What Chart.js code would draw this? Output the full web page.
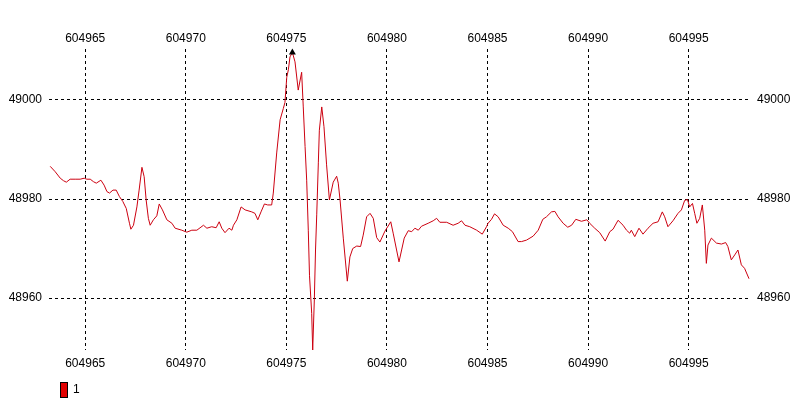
<!DOCTYPE html>
<html>
<head>
<meta charset="utf-8">
<title>Series 1</title>
<script src="https://cdn.jsdelivr.net/npm/chart.js@4.4.0/dist/chart.umd.min.js"></script>
<style>
  body { margin: 0; background: #fff; }
  #wrap { width: 800px; height: 400px; }
</style>
</head>
<body>
<div id="wrap"><canvas id="chart" width="800" height="400"></canvas></div>
<script>
// series "1"
const seriesName = '1';
const xValues = [
  604963.26, 604963.51, 604963.76, 604963.92, 604964.06, 604964.25, 604964.50, 604964.75, 604964.95, 604965.08,
  604965.25, 604965.41, 604965.55, 604965.78, 604965.94, 604966.08, 604966.21, 604966.38, 604966.54, 604966.70,
  604966.87, 604967.04, 604967.20, 604967.27, 604967.40, 604967.57, 604967.68, 604967.82, 604967.93, 604968.03,
  604968.14, 604968.23, 604968.39, 604968.56, 604968.68, 604968.84, 604969.06, 604969.31, 604969.47, 604969.80,
  604970.05, 604970.30, 604970.55, 604970.88, 604971.05, 604971.29, 604971.51, 604971.66, 604971.79, 604971.95,
  604972.15, 604972.29, 604972.37, 604972.54, 604972.75, 604972.95, 604973.28, 604973.44, 604973.58, 604973.74,
  604973.91, 604974.07, 604974.27, 604974.35, 604974.52, 604974.69, 604974.85, 604974.93, 604975.02, 604975.10,
  604975.18, 604975.30, 604975.43, 604975.59, 604975.76, 604975.84, 604975.93, 604976.01, 604976.09, 604976.15,
  604976.26, 604976.31, 604976.39, 604976.45, 604976.51, 604976.59, 604976.64, 604976.76, 604976.87, 604977.00,
  604977.14, 604977.33, 604977.50, 604977.58, 604977.67, 604977.83, 604978.03, 604978.16, 604978.30, 604978.50,
  604978.69, 604978.82, 604978.99, 604979.16, 604979.32, 604979.49, 604979.65, 604979.90, 604980.19, 604980.31,
  604980.48, 604980.60, 604980.73, 604980.86, 604981.06, 604981.23, 604981.39, 604981.56, 604981.72, 604982.05,
  604982.30, 604982.47, 604982.63, 604982.97, 604983.29, 604983.54, 604983.71, 604983.88, 604984.12, 604984.46,
  604984.74, 604984.95, 604985.03, 604985.20, 604985.35, 604985.53, 604985.78, 604986.03, 604986.24, 604986.52,
  604986.69, 604986.94, 604987.27, 604987.52, 604987.75, 604987.93, 604988.18, 604988.35, 604988.51, 604988.76,
  604988.99, 604989.18, 604989.39, 604989.67, 604989.94, 604990.08, 604990.33, 604990.58, 604990.85, 604991.08,
  604991.24, 604991.49, 604991.74, 604991.91, 604992.07, 604992.15, 604992.32, 604992.53, 604992.73, 604992.98,
  604993.23, 604993.48, 604993.69, 604993.81, 604993.97, 604994.22, 604994.47, 604994.64, 604994.80, 604994.94,
  604995.05, 604995.19, 604995.30, 604995.41, 604995.55, 604995.68, 604995.80, 604995.88, 604995.96, 604996.13,
  604996.38, 604996.63, 604996.84, 604996.95, 604997.12, 604997.29, 604997.45, 604997.62, 604997.78, 604998.00
];
const yValues = [
  48986.6, 48985.5, 48984.2, 48983.7, 48983.4, 48984.0, 48984.0, 48984.0, 48984.2, 48984.0,
  48984.0, 48983.5, 48983.2, 48983.8, 48982.8, 48981.5, 48981.2, 48981.8, 48981.8, 48980.5,
  48979.5, 48978.1, 48975.1, 48973.9, 48974.7, 48978.4, 48981.8, 48986.4, 48984.5, 48979.8,
  48976.1, 48974.7, 48975.8, 48976.6, 48979.0, 48977.8, 48975.8, 48975.1, 48974.1, 48973.7,
  48973.3, 48973.7, 48973.7, 48974.7, 48974.1, 48974.4, 48974.2, 48975.4, 48974.1, 48973.2,
  48974.1, 48973.7, 48974.7, 48975.8, 48978.4, 48977.8, 48977.4, 48977.1, 48975.8, 48977.4,
  48979.0, 48978.8, 48978.8, 48981.2, 48989.3, 48996.0, 48998.3, 48999.5, 49004.6, 49006.1,
  49008.7, 49009.6, 49007.7, 49002.0, 49005.6, 48998.6, 48990.6, 48983.8, 48973.7, 48964.6,
  48956.9, 48949.5, 48959.6, 48969.7, 48976.8, 48987.3, 48993.9, 48998.6, 48994.6, 48986.9,
  48979.8, 48983.4, 48984.6, 48983.2, 48979.8, 48972.1, 48963.4, 48968.3, 48970.0, 48970.5,
  48970.4, 48972.7, 48976.4, 48977.1, 48976.1, 48972.2, 48971.3, 48973.5, 48975.4, 48973.1,
  48969.7, 48967.3, 48969.7, 48972.1, 48973.6, 48973.4, 48974.1, 48973.7, 48974.5, 48975.1,
  48975.6, 48976.1, 48975.3, 48975.3, 48974.7, 48975.1, 48975.6, 48974.7, 48974.4, 48973.7,
  48972.9, 48974.4, 48975.1, 48975.9, 48977.0, 48976.4, 48974.7, 48974.1, 48973.4, 48971.4,
  48971.4, 48971.7, 48972.5, 48973.7, 48975.9, 48976.4, 48977.4, 48977.5, 48976.4, 48975.1,
  48974.3, 48974.7, 48975.9, 48975.5, 48975.8, 48975.1, 48974.1, 48973.2, 48971.5, 48973.4,
  48973.9, 48975.7, 48974.7, 48973.7, 48973.1, 48973.7, 48972.4, 48974.1, 48972.9, 48974.1,
  48975.1, 48975.4, 48977.4, 48976.4, 48974.4, 48975.6, 48977.1, 48977.8, 48979.7, 48979.9,
  48978.4, 48979.1, 48977.1, 48975.1, 48976.1, 48978.8, 48973.7, 48967.0, 48970.7, 48972.1,
  48971.1, 48970.9, 48971.2, 48970.4, 48967.7, 48968.7, 48969.7, 48966.7, 48966.0, 48963.9
];
const xTicks = [604965, 604970, 604975, 604980, 604985, 604990, 604995];
const yTicks = [48960, 48980, 49000];
const xRange = [604963.2, 604998.0];
const yRange = [48949.5, 49010.3];

const lineColor = '#cc0010';
const boxColor = '#e00000';

Chart.defaults.font.family = '"Liberation Sans", Arial, sans-serif';
Chart.defaults.font.size = 12;
Chart.defaults.color = '#000';

const points = xValues.map((x, i) => ({ x: x, y: yValues[i] }));
let peakIdx = 0;
yValues.forEach((v, i) => { if (v > yValues[peakIdx]) peakIdx = i; });

const plain = v => String(v);

// little legend in the bottom-left corner
const legendBox = {
    id: 'legendBox',
    afterDraw(chart) {
        const ctx = chart.ctx;
        ctx.save();
        ctx.fillStyle = boxColor;
        ctx.fillRect(60, 382, 7, 15);
        ctx.strokeStyle = '#000';
        ctx.lineWidth = 1;
        ctx.strokeRect(60.5, 382.5, 7, 15);
        ctx.fillStyle = '#000';
        ctx.font = '12px "Liberation Sans", Arial, sans-serif';
        ctx.textBaseline = 'middle';
        ctx.fillText(seriesName, 73, 390);
        ctx.restore();
    }
};

function fixW(w) { return scale => { scale.width = w; }; }
function fixH(h) { return scale => { scale.height = h; }; }

new Chart(document.getElementById('chart').getContext('2d'), {
    type: 'line',
    data: {
        datasets: [{
            label: seriesName,
            data: points,
            borderColor: lineColor,
            backgroundColor: lineColor,
            borderWidth: 1,
            pointRadius: 0,
            tension: 0,
            order: 2
        }, {
            label: 'max',
            data: [points[peakIdx]],
            pointStyle: 'triangle',
            pointRadius: 4,
            backgroundColor: '#000',
            borderColor: '#000',
            borderWidth: 0,
            showLine: false,
            order: 1
        }]
    },
    options: {
        responsive: false,
        animation: false,
        clip: false,
        layout: { padding: 0 },
        plugins: {
            legend: { display: false },
            tooltip: { enabled: false }
        },
        scales: {
            x: {
                type: 'linear',
                position: 'bottom',
                min: xRange[0],
                max: xRange[1],
                afterFit: fixH(50),
                afterBuildTicks: s => { s.ticks = xTicks.map(v => ({ value: v })); },
                ticks: { callback: plain, padding: 6, maxRotation: 0 },
                grid: { color: '#000', drawTicks: false },
                border: { display: false, dash: [3, 3] }
            },
            x2: {
                type: 'linear',
                position: 'top',
                min: xRange[0],
                max: xRange[1],
                afterFit: fixH(49),
                afterBuildTicks: s => { s.ticks = xTicks.map(v => ({ value: v })); },
                ticks: { callback: plain, padding: 3, maxRotation: 0 },
                grid: { display: false, drawTicks: false },
                border: { display: false }
            },
            y: {
                position: 'left',
                min: yRange[0],
                max: yRange[1],
                afterFit: fixW(49),
                afterBuildTicks: s => { s.ticks = yTicks.map(v => ({ value: v })); },
                ticks: { callback: plain, padding: 7 },
                grid: { color: '#000', drawTicks: false },
                border: { display: false, dash: [3, 3] }
            },
            y2: {
                position: 'right',
                min: yRange[0],
                max: yRange[1],
                afterFit: fixW(51),
                afterBuildTicks: s => { s.ticks = yTicks.map(v => ({ value: v })); },
                ticks: { callback: plain, padding: 8 },
                grid: { display: false, drawTicks: false },
                border: { display: false }
            }
        }
    },
    plugins: [legendBox]
});
</script>
</body>
</html>
